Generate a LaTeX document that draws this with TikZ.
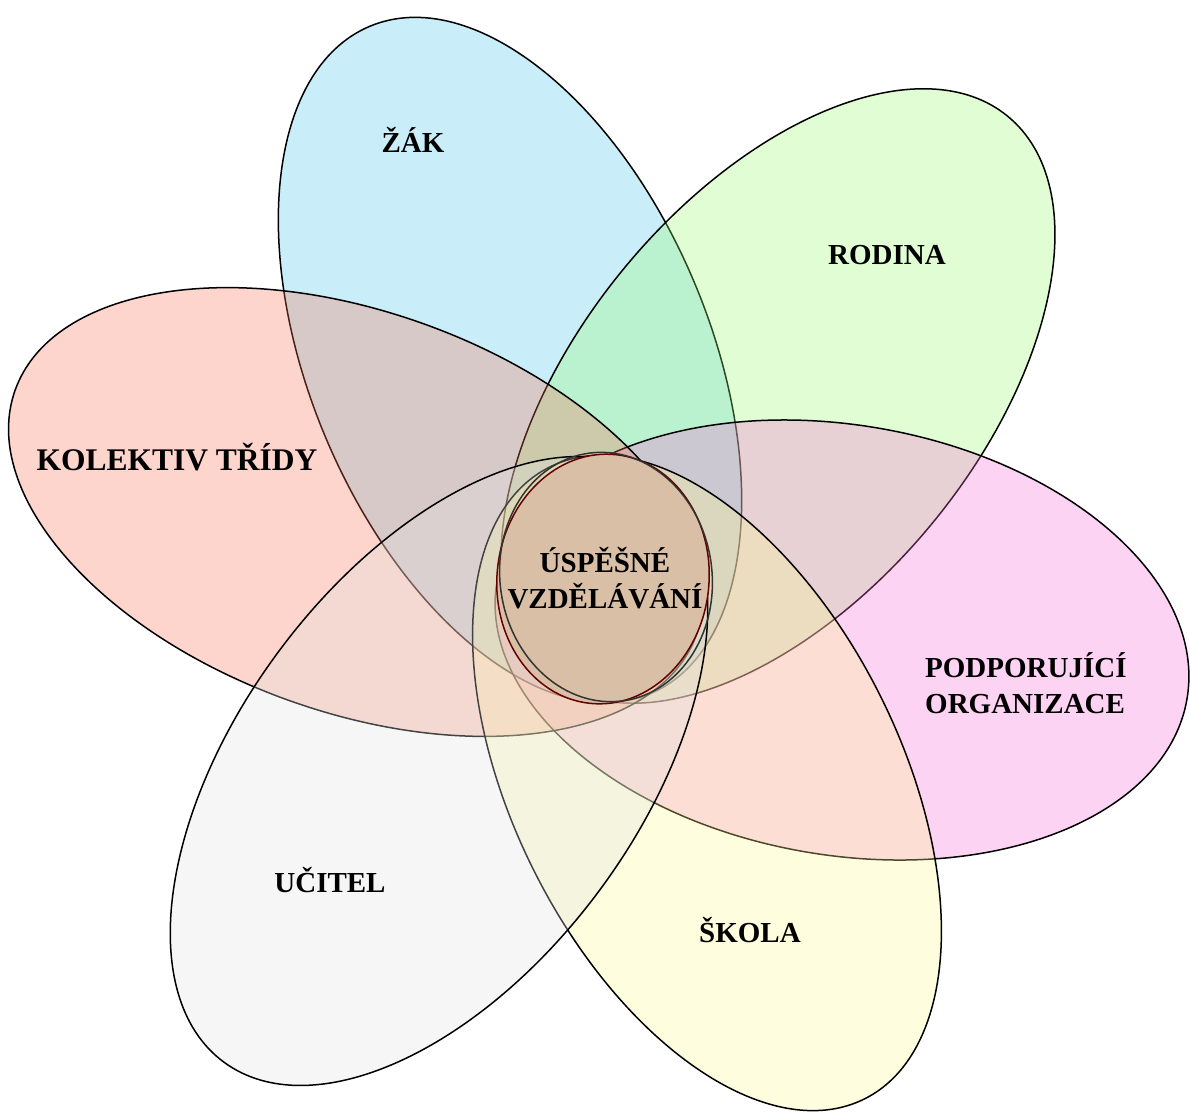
\documentclass[tikz,border=0pt]{standalone}
\usepackage{fontspec}
\setmainfont{Liberation Serif}
\usetikzlibrary{shapes}
\definecolor{zakc}{HTML}{4BC6EB}
\definecolor{rodinac}{HTML}{98F870}
\definecolor{podporac}{HTML}{F86CD7}
\definecolor{skolac}{HTML}{FCF891}
\definecolor{ucitelc}{HTML}{E1E1E1}
\definecolor{kolektivc}{HTML}{F87355}
\definecolor{jadroc}{HTML}{D9BFA6}
\tikzset{
	petal/.style = {ellipse, draw=black, line width=1.5pt, fill opacity=0.3,
		inner sep=0pt, minimum width=724pt, minimum height=400pt},% okvetni listek
	core/.style = {ellipse, line width=1.5pt, inner sep=0pt,
		minimum width=212pt, minimum height=250pt},% stred kvetu
	petal_t/.style = {font=\bfseries\fontsize{29}{36}\selectfont, inner sep=0pt}% popisek
}
\begin{document}
\begin{tikzpicture}[x=1pt,y=-1pt]
	\useasboundingbox (0,0) rectangle (1190,1112);
	% listky
	\node[petal, fill=zakc, rotate=-67.2] (zak) at (510,360) {};
	\node[petal, fill=rodinac, rotate=50.6] (rodina) at (778,396) {};
	\node[petal, fill=podporac, rotate=-9.7, minimum width=700pt, minimum height=430pt] (podpora) at (842,640) {};
	\node[petal, fill=kolektivc, rotate=-19.7] (kolektiv) at (356,512) {};
	\node[petal, fill=skolac, rotate=-63.5, minimum width=706pt, minimum height=388pt] (skola) at (707,783) {};
	\node[petal, fill=ucitelc, rotate=53.5] (ucitel) at (439,771) {};
	% stred
	\node[core, fill=jadroc, draw=black!60!red, rotate=-6] (jadro) at (603,579) {};
	\node[core, draw=black!80, rotate=8] (jadro2) at (606,577) {};
	% popisky
	\node[petal_t, anchor=base] (zak_t) at (413,152) {ŽÁK};
	\node[petal_t, anchor=base] (rodina_t) at (887,264) {RODINA};
	\node[petal_t, anchor=base, font=\bfseries\fontsize{31.5}{36}\selectfont] (kolektiv_t) at (177,470) {KOLEKTIV TŘÍDY};
	\node[petal_t, anchor=base west] (podpora_t1) at (925,677) {PODPORUJÍCÍ};
	\node[petal_t, anchor=base west] (podpora_t2) at (925,713) {ORGANIZACE};
	\node[petal_t, anchor=base] (skola_t) at (750,942) {ŠKOLA};
	\node[petal_t, anchor=base] (ucitel_t) at (330,892) {UČITEL};
	\node[petal_t, anchor=base] (jadro_t1) at (605,572) {ÚSPĚŠNÉ};
	\node[petal_t, anchor=base] (jadro_t2) at (605,608) {VZDĚLÁVÁNÍ};
\end{tikzpicture}
\end{document}
